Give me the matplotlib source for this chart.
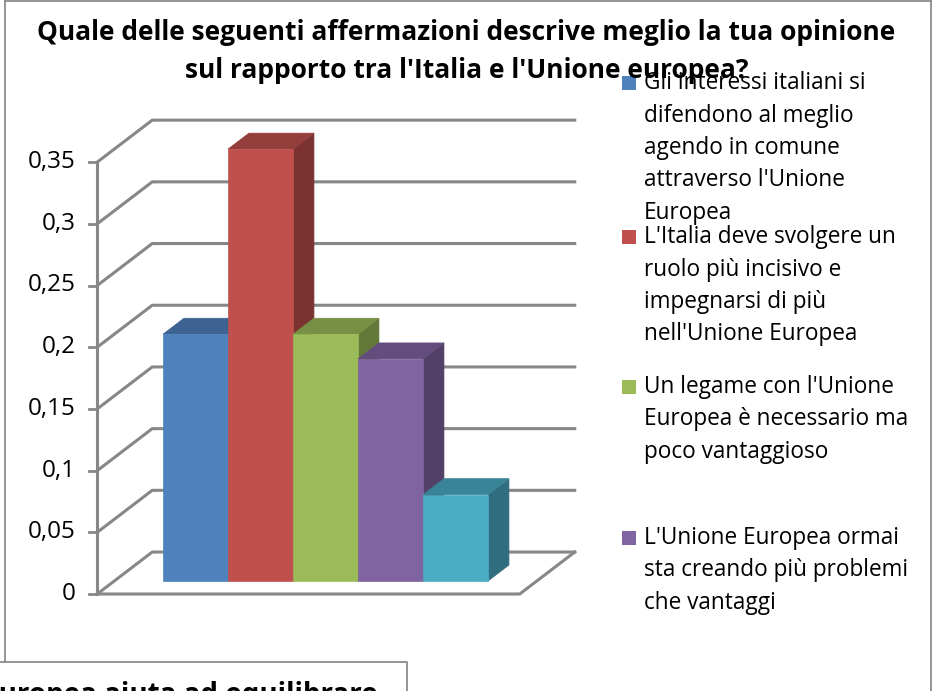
import matplotlib
matplotlib.use("Agg")
import matplotlib.pyplot as plt
from matplotlib.patches import Polygon, Rectangle
import matplotlib.colors as mcolors

# ---- dati ----
valori = [0.2, 0.35, 0.2, 0.18, 0.07]
colori = ["#4F81BD", "#C0504D", "#9BBB59", "#8064A2", "#4BACC6"]
etichette = [
    "Gli interessi italiani si\ndifendono al meglio\nagendo in comune\nattraverso l'Unione\nEuropea",
    "L'Italia deve svolgere un\nruolo più incisivo e\nimpegnarsi di più\nnell'Unione Europea",
    "Un legame con l'Unione\nEuropea è necessario ma\npoco vantaggioso",
    "L'Unione Europea ormai\nsta creando più problemi\nche vantaggi",
]
tick_vals = [0, 0.05, 0.1, 0.15, 0.2, 0.25, 0.3, 0.35]
tick_labels = ["0", "0,05", "0,1", "0,15", "0,2", "0,25", "0,3", "0,35"]
titolo = ("Quale delle seguenti affermazioni descrive meglio la tua opinione\n"
          "sul rapporto tra l'Italia e l'Unione europea?")
testo_sotto = "Europea aiuta ad equilibrare"

W, H = 933, 691
FONT = ["Open Sans", "DejaVu Sans"]
GRID = "#878787"

# proiezione obliqua "3D" (profondita z in 0..1)
DX, DY = 0.846, 0.034
Z0, Z1 = 0.31, 0.69
X_LO, X_HI = -0.75, len(valori) + 0.75


def P(x, v, z):
    return (x + z * DX, v + z * DY)


def shade(c, f):
    r, g, b = mcolors.to_rgb(c)
    return (r * f, g * f, b * f)


fig = plt.figure(figsize=(W / 100, H / 100), dpi=100)
ax = fig.add_axes([0, 0, 1, 1])
ax.set_xlim(-146 / 65, (W - 146) / 65)
ax.set_ylim(-(H - 594) / 1234, 594 / 1234)
ax.axis("off")

# pareti e griglia
top_v = tick_vals[-1]
for v, lab in zip(tick_vals, tick_labels):
    a, b = P(X_LO, v, 0), P(X_LO, v, 1)
    c = P(X_HI, v, 1)
    ax.plot([a[0], b[0], c[0]], [a[1], b[1], c[1]], color=GRID, lw=2.2,
            solid_joinstyle="miter", zorder=1)
    ax.plot([a[0] - 0.13, a[0]], [a[1], a[1]], color=GRID, lw=2, zorder=1)
    ax.text(a[0] - 0.33, a[1], lab, ha="right", va="center",
            fontsize=17.5, family=FONT, color="black")
fl = [P(X_LO, 0, 0), P(X_HI, 0, 0), P(X_HI, 0, 1)]
ax.plot([p[0] for p in fl], [p[1] for p in fl], color=GRID, lw=2.2, zorder=1)
ax.plot([P(X_LO, 0, 0)[0]] * 2, [0, top_v], color=GRID, lw=2.2, zorder=1)

# barre 3D
for i, v in enumerate(valori):
    zo = 2 + i * 0.1
    side = [P(i + 1, 0, Z0), P(i + 1, 0, Z1), P(i + 1, v, Z1), P(i + 1, v, Z0)]
    top = [P(i, v, Z0), P(i + 1, v, Z0), P(i + 1, v, Z1), P(i, v, Z1)]
    ax.add_patch(Polygon(side, closed=True, fc=shade(colori[i], 0.64),
                         ec=shade(colori[i], 0.64), lw=0.5, zorder=zo))
    ax.add_patch(Polygon(top, closed=True, fc=shade(colori[i], 0.77),
                         ec=shade(colori[i], 0.77), lw=0.5, zorder=zo + 0.01))
    x0, y0 = P(i, 0, Z0)
    ax.bar(x0, v, width=1, bottom=y0, align="edge", color=colori[i],
           edgecolor=colori[i], lw=0.5, zorder=zo + 0.02)

# titolo
fig.text(0.5, 1 - 51.5 / H, titolo, ha="center", va="center", fontsize=19,
         fontweight="bold", family=FONT, linespacing=1.55)

# legenda
leg_y = [83, 237, 387, 538]
for lab, col, y in zip(etichette, colori, leg_y):
    fig.patches.append(Rectangle((622 / W, 1 - (y + 7) / H), 14 / W, 14 / H,
                                 transform=fig.transFigure, fc=col, ec="none"))
    for j, riga in enumerate(lab.split("\n")):
        fig.text(644 / W, 1 - (y + 32.5 * j) / H, riga, ha="left", va="center",
                 fontsize=16.3, family=FONT)

# cornice del grafico e riquadro sottostante
fig.add_artist(plt.Line2D([5 / W, 5 / W], [1 - 662 / H, 1], color="#8c8c8c", lw=1.3))
fig.add_artist(plt.Line2D([5 / W, 931 / W], [1 - 1 / H, 1 - 1 / H], color="#8c8c8c", lw=1.3))
fig.add_artist(plt.Line2D([931 / W, 931 / W], [0, 1], color="#8c8c8c", lw=1.3))
fig.add_artist(plt.Line2D([0, 407 / W, 407 / W], [1 - 662 / H, 1 - 662 / H, 0],
                          color="#8c8c8c", lw=1.3))
fig.text(378 / W, 1 - 681 / H, testo_sotto, ha="right", va="top", fontsize=20,
         fontweight="bold", family=FONT)

fig.savefig("out.png", dpi=100)
